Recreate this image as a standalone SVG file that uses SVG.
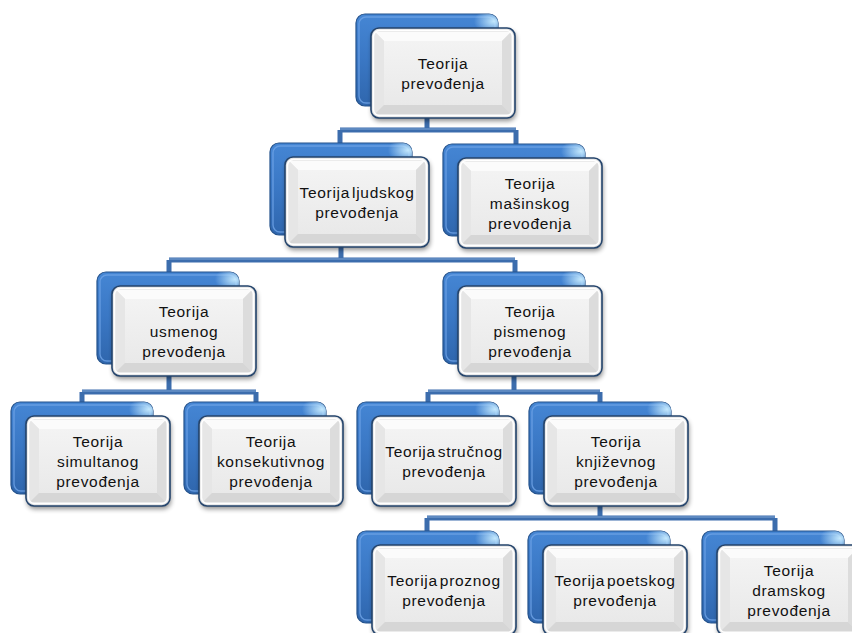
<svg xmlns="http://www.w3.org/2000/svg" xmlns:xlink="http://www.w3.org/1999/xlink" width="852" height="633" viewBox="0 0 852 633">
  <style>
    .lbl { font-family: "Liberation Sans", Arial, sans-serif; font-size: 15.5px; letter-spacing: 0.7px; fill: #111; text-anchor: middle; }
    .wire { fill: none; stroke: #3c6dad; stroke-width: 5; stroke-linejoin: miter; }
    .wire-hi { fill: none; stroke: #7fa5d6; stroke-width: 1.2; }
  </style>
  <defs>
    <linearGradient id="blueFill" x1="0" y1="0" x2="0" y2="1">
      <stop offset="0" stop-color="#4586d4"/>
      <stop offset="0.5" stop-color="#3a77c4"/>
      <stop offset="1" stop-color="#2f66ad"/>
    </linearGradient>
    <radialGradient id="blueGlint" cx="0.97" cy="0.08" r="0.14">
      <stop offset="0" stop-color="#c8ecff" stop-opacity="0.95"/>
      <stop offset="1" stop-color="#c8ecff" stop-opacity="0"/>
    </radialGradient>
    <linearGradient id="faceFill" x1="0" y1="0" x2="0" y2="1">
      <stop offset="0" stop-color="#f3f3f3"/>
      <stop offset="1" stop-color="#e9e9e9"/>
    </linearGradient>
    <filter id="shadow" x="-20%" y="-20%" width="140%" height="150%">
      <feGaussianBlur in="SourceAlpha" stdDeviation="2.5"/>
      <feOffset dx="1" dy="3" result="b"/>
      <feComponentTransfer><feFuncA type="linear" slope="0.45"/></feComponentTransfer>
      <feMerge><feMergeNode/><feMergeNode in="SourceGraphic"/></feMerge>
    </filter>
    <!-- blue card behind each box -->
    <g id="back">
      <rect x="0" y="0" width="142" height="92" rx="9" fill="url(#blueFill)" stroke="#24528c" stroke-width="1.2"/>
      <rect x="3" y="3" width="136" height="86" rx="7" fill="none" stroke="#6ea3e6" stroke-width="1.4" stroke-opacity="0.8"/>
      <rect x="0" y="0" width="142" height="92" rx="9" fill="url(#blueGlint)"/>
    </g>
    <!-- bevelled white box in front -->
    <g id="front">
      <g filter="url(#shadow)">
        <rect x="15" y="14" width="144" height="90" rx="8" fill="#e4e4e4"/>
      </g>
      <!-- bevel bands -->
      <path d="M19 18 L155 18 L146 27 L28 27 Z" fill="#fbfbfb"/>
      <path d="M19 18 L28 27 L28 91 L19 100 Z" fill="#e6e6e6"/>
      <path d="M155 18 L155 100 L146 91 L146 27 Z" fill="#dcdcdc"/>
      <path d="M19 100 L28 91 L146 91 L155 100 Z" fill="#d6d6d6"/>
      <rect x="28" y="27" width="118" height="64" fill="url(#faceFill)"/>
      <rect x="15" y="14" width="144" height="90" rx="8" fill="none" stroke="#24446c" stroke-width="1.6"/>
      <rect x="17.5" y="16.5" width="139" height="85" rx="6" fill="none" stroke="#ffffff" stroke-width="1.5"/>
    </g>
  </defs>

  <!-- connectors -->
  <g id="connectors">
    <path class="wire" d="M427 100 V130 M340 130 H516 M340 130 V146 M516 130 V146"/>
    <path class="wire" d="M341 230 V260 M169 260 H515 M169 260 V275 M515 260 V275"/>
    <path class="wire" d="M169 360 V392 M82 392 H256 M82 392 V404 M256 392 V404"/>
    <path class="wire" d="M514 360 V392 M428 392 H600 M428 392 V404 M600 392 V404"/>
    <path class="wire" d="M600 490 V518 M427 518 H775 M427 518 V533 M775 518 V533"/>
    <path class="wire-hi" d="M340 129 H516 M169 259 H515 M82 391 H256 M428 391 H600 M427 517 H775"/>
  </g>

  <g id="n-teorija" transform="translate(356,14)">
    <use xlink:href="#back"/><use xlink:href="#front"/>
    <text class="lbl" x="87"><tspan x="87" y="55">Teorija</tspan><tspan x="87" y="75">prevođenja</tspan></text>
  </g>

  <g id="n-ljudskog" transform="translate(270,143)">
    <use xlink:href="#back"/><use xlink:href="#front"/>
    <text class="lbl" x="87" word-spacing="-3"><tspan x="87" y="55">Teorija ljudskog</tspan><tspan x="87" y="75">prevođenja</tspan></text>
  </g>

  <g id="n-masinskog" transform="translate(443,144)">
    <use xlink:href="#back"/><use xlink:href="#front"/>
    <text class="lbl" x="87"><tspan x="87" y="45">Teorija</tspan><tspan x="87" y="65">mašinskog</tspan><tspan x="87" y="85">prevođenja</tspan></text>
  </g>

  <g id="n-usmenog" transform="translate(97,272)">
    <use xlink:href="#back"/><use xlink:href="#front"/>
    <text class="lbl" x="87"><tspan x="87" y="45">Teorija</tspan><tspan x="87" y="65">usmenog</tspan><tspan x="87" y="85">prevođenja</tspan></text>
  </g>

  <g id="n-pismenog" transform="translate(443,272)">
    <use xlink:href="#back"/><use xlink:href="#front"/>
    <text class="lbl" x="87"><tspan x="87" y="45">Teorija</tspan><tspan x="87" y="65">pismenog</tspan><tspan x="87" y="85">prevođenja</tspan></text>
  </g>

  <g id="n-simultanog" transform="translate(11,402)">
    <use xlink:href="#back"/><use xlink:href="#front"/>
    <text class="lbl" x="87"><tspan x="87" y="45">Teorija</tspan><tspan x="87" y="65">simultanog</tspan><tspan x="87" y="85">prevođenja</tspan></text>
  </g>

  <g id="n-konsekutivnog" transform="translate(184,402)">
    <use xlink:href="#back"/><use xlink:href="#front"/>
    <text class="lbl" x="87"><tspan x="87" y="45">Teorija</tspan><tspan x="87" y="65">konsekutivnog</tspan><tspan x="87" y="85">prevođenja</tspan></text>
  </g>

  <g id="n-strucnog" transform="translate(357,402)">
    <use xlink:href="#back"/><use xlink:href="#front"/>
    <text class="lbl" x="87" word-spacing="-3"><tspan x="87" y="55">Teorija stručnog</tspan><tspan x="87" y="75">prevođenja</tspan></text>
  </g>

  <g id="n-knjizevnog" transform="translate(529,402)">
    <use xlink:href="#back"/><use xlink:href="#front"/>
    <text class="lbl" x="87"><tspan x="87" y="45">Teorija</tspan><tspan x="87" y="65">književnog</tspan><tspan x="87" y="85">prevođenja</tspan></text>
  </g>

  <g id="n-proznog" transform="translate(357,531)">
    <use xlink:href="#back"/><use xlink:href="#front"/>
    <text class="lbl" x="87" word-spacing="-3"><tspan x="87" y="55">Teorija proznog</tspan><tspan x="87" y="75">prevođenja</tspan></text>
  </g>

  <g id="n-poetskog" transform="translate(528,531)">
    <use xlink:href="#back"/><use xlink:href="#front"/>
    <text class="lbl" x="87" word-spacing="-3"><tspan x="87" y="55">Teorija poetskog</tspan><tspan x="87" y="75">prevođenja</tspan></text>
  </g>

  <g id="n-dramskog" transform="translate(702,531)">
    <use xlink:href="#back"/><use xlink:href="#front"/>
    <text class="lbl" x="87"><tspan x="87" y="45">Teorija</tspan><tspan x="87" y="65">dramskog</tspan><tspan x="87" y="85">prevođenja</tspan></text>
  </g>
</svg>
